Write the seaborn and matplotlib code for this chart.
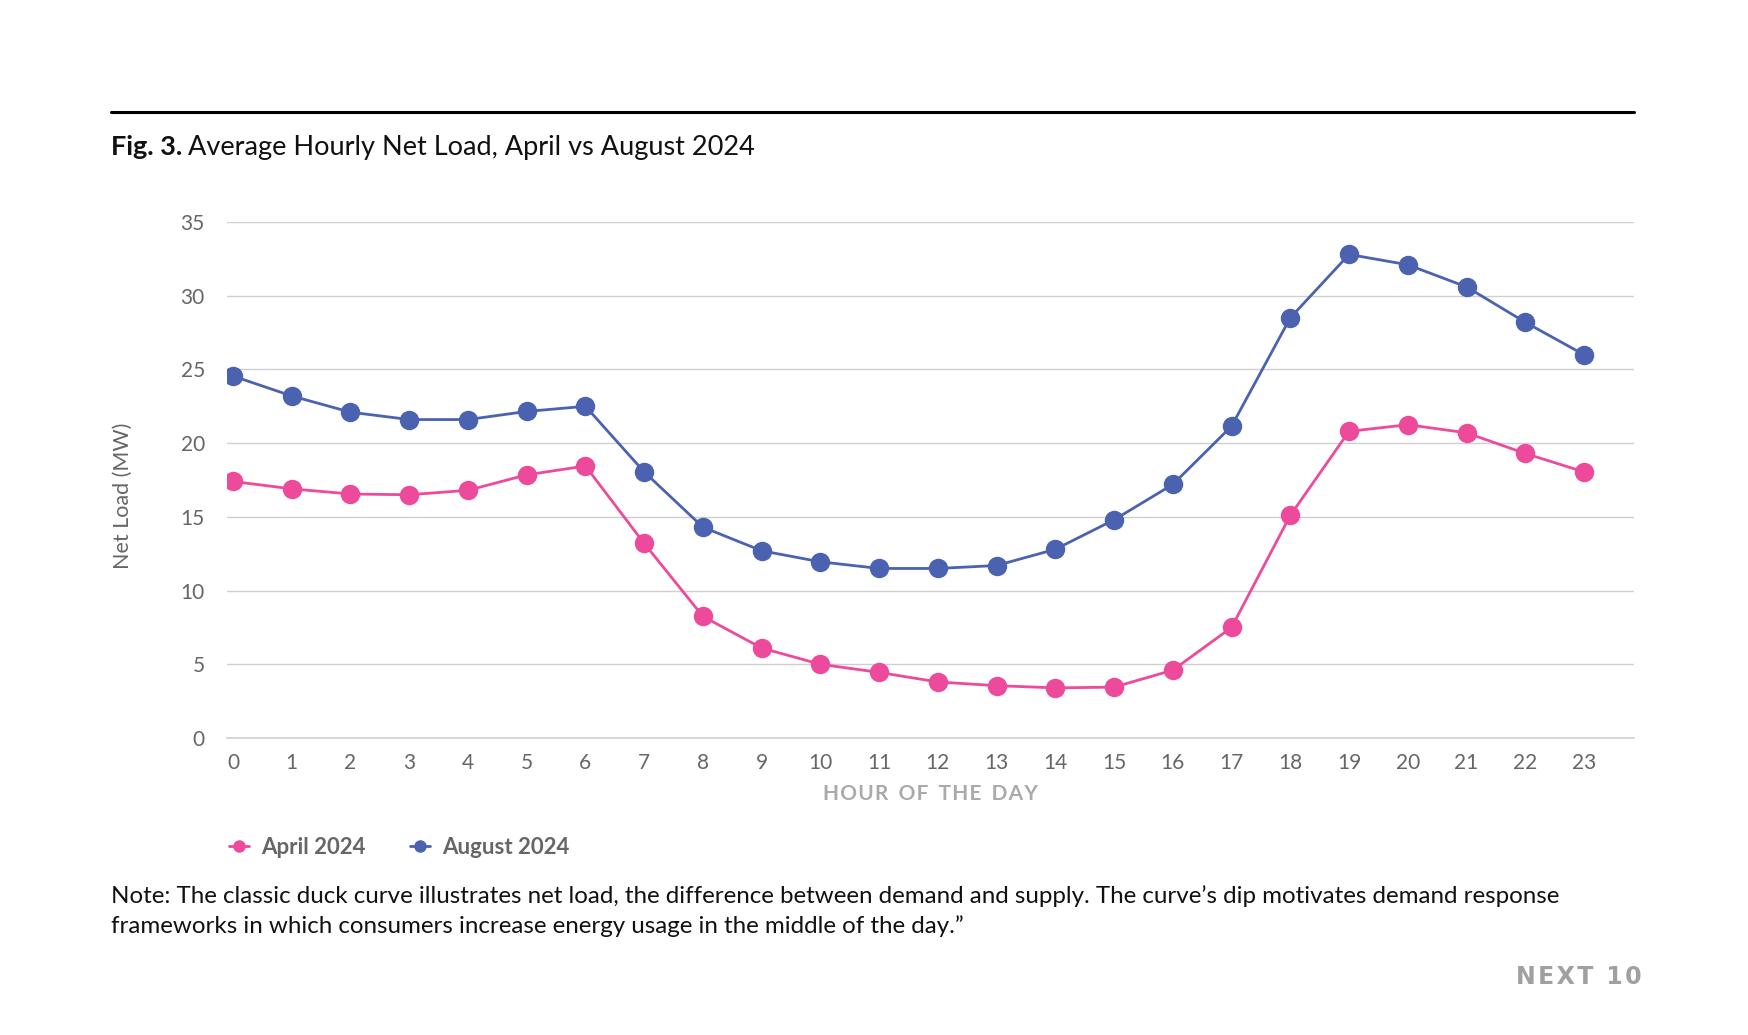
import pandas as pd
import matplotlib
matplotlib.use('Agg')
import matplotlib.pyplot as plt
import seaborn as sns

# Values
hours = list(range(24))
april_2024 = [17.4, 16.9, 16.55, 16.5, 16.8, 17.85, 18.45, 13.2, 8.25, 6.1, 5.0, 4.45,
              3.8, 3.55, 3.4, 3.45, 4.6, 7.5, 15.1, 20.8, 21.25, 20.7, 19.3, 18.05]
august_2024 = [24.55, 23.2, 22.1, 21.6, 21.6, 22.15, 22.5, 18.05, 14.3, 12.7, 11.95, 11.5,
               11.5, 11.7, 12.8, 14.8, 17.2, 21.15, 28.5, 32.8, 32.1, 30.6, 28.2, 26.0]
series_names = ['April 2024', 'August 2024']
y_ticks = [0, 5, 10, 15, 20, 25, 30, 35]

df = pd.DataFrame({'Hour': hours, 'April 2024': april_2024, 'August 2024': august_2024})
df = df.melt(id_vars='Hour', var_name='Series', value_name='Net Load')

sns.set_style('white')
plt.rcParams['font.family'] = ['Lato', 'DejaVu Sans']

colors = {'April 2024': '#EE4A9B', 'August 2024': '#4A62B0'}

W, H = 1749, 1035
fig = plt.figure(figsize=(W / 100, H / 100), dpi=100)
ax = fig.add_axes([227 / W, 1 - 738 / H, (1634 - 227) / W, (738 - 222) / H])

sns.lineplot(data=df, x='Hour', y='Net Load', hue='Series', hue_order=series_names,
             palette=colors, marker='o', markersize=14, markeredgewidth=0,
             linewidth=2, ax=ax, legend=False)

# x=0 at 233 px and x=23 at 1584 px
per_hour = (1584 - 233) / 23
ax.set_xlim(-(233 - 227) / per_hour, 23 + (1634 - 1584) / per_hour)
ax.set_ylim(0, 35)
ax.set_xticks(hours)
ax.set_yticks(y_ticks)
ax.tick_params(axis='x', labelcolor='#666666', labelsize=15, length=6, width=1,
               pad=5, color='#BBBBBB')
ax.tick_params(axis='y', labelcolor='#666666', labelsize=15, length=0, pad=16)
ax.yaxis.grid(True, color='#CFCFCF', linewidth=1)
ax.set_axisbelow(True)
for side in ['top', 'right', 'left']:
    ax.spines[side].set_visible(False)
ax.spines['bottom'].set_color('#CFCFCF')
ax.spines['bottom'].set_linewidth(1.2)

ax.set_xlabel('H\u200aO\u200aU\u200aR  O\u200aF  T\u200aH\u200aE  D\u200aA\u200aY',
              color='#AAAAAA', fontsize=15, fontweight='bold', labelpad=8)
ax.set_ylabel('')
fig.text(123 / W, 1 - 496 / H, 'Net Load (MW)', color='#666666', fontsize=15.5,
         rotation=90, ha='center', va='center')

# Legend
handles = [plt.Line2D([], [], color=colors[s], marker='o', markersize=9,
                      markeredgewidth=0, linewidth=2) for s in series_names]
leg = fig.legend(handles, series_names, loc='center left',
                 bbox_to_anchor=(229 / W, 1 - 847 / H), ncol=2, frameon=False,
                 borderaxespad=0, borderpad=0,
                 handlelength=0.9, handletextpad=0.55, columnspacing=2.0,
                 prop={'size': 16, 'weight': 'bold'})
for t in leg.get_texts():
    t.set_color('#666666')

# Top rule and title
fig.add_artist(plt.Line2D([111 / W, 1634 / W], [1 - 112 / H] * 2,
                          color='black', linewidth=2.2))
bold = fig.text(111 / W, 1 - 155 / H, 'Fig. 3.', fontsize=19.5, fontweight='bold',
                va='baseline', color='#111111')
renderer = fig.canvas.get_renderer()
bb = bold.get_window_extent(renderer)
fig.text((bb.x1 + 6) / W, 1 - 155 / H, 'Average Hourly Net Load, April vs August 2024',
         fontsize=19.5, va='baseline', color='#111111')

# Note
fig.text(111 / W, 1 - 896 / H,
         'Note: The classic duck curve illustrates net load, the difference between demand and supply. '
         'The curve\u2019s dip motivates demand response',
         fontsize=17.4, va='center', color='#111111')
fig.text(111 / W, 1 - 926 / H,
         'frameworks in which consumers increase energy usage in the middle of the day.\u201d',
         fontsize=17.4, va='center', color='#111111')

# Brand mark
fig.text(1642 / W, 1 - 977 / H, 'N\u200aE\u200aX\u200aT\u2009 1\u200a0', fontsize=17,
         fontweight='bold', color='#A0A0A3', ha='right', va='center', family='DejaVu Sans')

fig.savefig('out.png', dpi=100)
